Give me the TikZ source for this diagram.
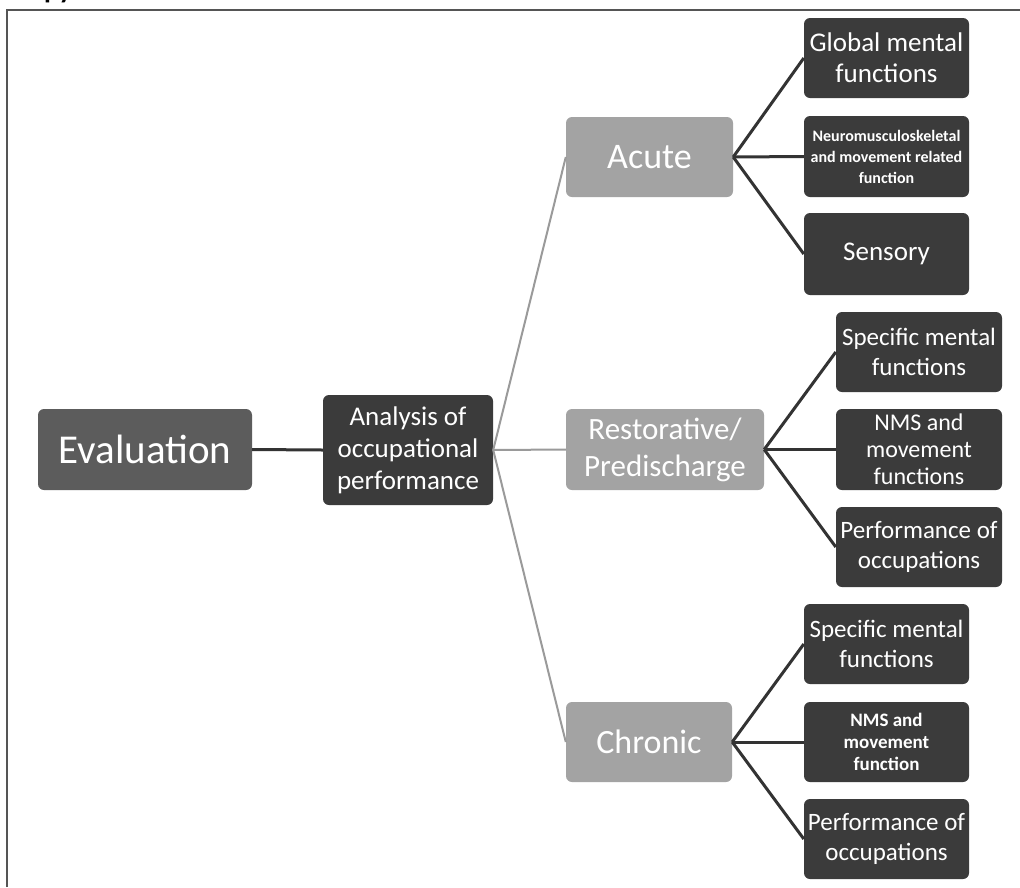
\documentclass[tikz,border=0pt]{standalone}
\usepackage{fontspec}
\setmainfont{Carlito}
\definecolor{boxdark}{HTML}{3B3B3B}
\definecolor{boxmid}{HTML}{5C5C5C}
\definecolor{boxlight}{HTML}{A3A3A3}
\definecolor{linedark}{HTML}{333333}
\definecolor{linelight}{HTML}{9A9A9A}
\definecolor{framegray}{HTML}{555555}
\tikzset{
  base/.style={rounded corners=6pt, inner sep=0pt, text=white, align=center},
  evalbox/.style={base, fill=boxmid, minimum width=214pt, minimum height=81pt, font=\fontsize{41}{46}\selectfont},
  anabox/.style={base, fill=boxdark, minimum width=170pt, minimum height=110pt, font=\fontsize{27}{32}\selectfont},
  catbox/.style={base, fill=boxlight, minimum width=167pt, minimum height=80pt, font=\fontsize{34}{37}\selectfont},
  leafbox/.style={base, fill=boxdark, minimum width=165pt, minimum height=80pt, font=\fontsize{25}{30}\selectfont},
  darkline/.style={draw=linedark, line width=3pt},
  lightline/.style={draw=linelight, line width=2pt},
}
\begin{document}
\begin{tikzpicture}[x=1pt, y=-1pt]
\clip (0,0) rectangle (1020,887);
\fill[white] (0,0) rectangle (1020,887);
% frame
\draw[framegray, line width=2pt] (7,887) -- (7,10) -- (1021,10);
% heading text, cut off by the top edge as in the reference
\node[anchor=base west, inner sep=0pt, font=\bfseries\fontsize{28}{28}\selectfont] (head) at (14,-2) {Copy};

% nodes
\node[evalbox] (eval) at (145,449.5) {Evaluation};
\node[anabox] (ana) at (408,450) {Analysis of\\occupational\\performance};

\node[catbox, font=\fontsize{36}{37}\selectfont] (acute) at (649.5,157) {Acute};
\node[catbox, minimum width=198pt, minimum height=81pt, font=\fontsize{31}{37}\selectfont] (rest) at (665,449.5) {Restorative/\\Predischarge};
\node[catbox, minimum width=166pt] (chron) at (649,742) {Chronic};

\node[leafbox, font=\fontsize{27}{31}\selectfont] (glob) at (886.5,58) {Global mental\\functions};
\node[leafbox, minimum height=81pt, font=\bfseries\fontsize{16}{21}\selectfont] (neuro) at (886.5,156.5) {Neuromusculoskeletal\\and movement related\\function};
\node[leafbox, minimum height=82pt, font=\fontsize{27}{31}\selectfont] (sens) at (886.5,254) {Sensory};

\node[leafbox, minimum width=166pt] (specr) at (919,352) {Specific mental\\functions};
\node[leafbox, minimum width=166pt, minimum height=81pt, font=\fontsize{24}{27}\selectfont] (nmsr) at (919,449.5) {NMS and\\movement\\functions};
\node[leafbox, minimum width=166pt] (perfr) at (919,547) {Performance of\\occupations};

\node[leafbox] (specc) at (886.5,644) {Specific mental\\functions};
\node[leafbox, font=\bfseries\fontsize{19}{22}\selectfont] (nmsc) at (886.5,742) {NMS and\\movement\\function};
\node[leafbox] (perfc) at (886.5,839) {Performance of\\occupations};

% connectors
\draw[darkline] (eval.east) -- (ana.west);
\draw[lightline] (ana.east) -- (acute.west);
\draw[lightline] (ana.east) -- (rest.west);
\draw[lightline] (ana.east) -- (chron.west);

\draw[darkline] (acute.east) -- (glob.west);
\draw[darkline] (acute.east) -- (neuro.west);
\draw[darkline] (acute.east) -- (sens.west);

\draw[darkline] (rest.east) -- (specr.west);
\draw[darkline] (rest.east) -- (nmsr.west);
\draw[darkline] (rest.east) -- (perfr.west);

\draw[darkline] (chron.east) -- (specc.west);
\draw[darkline] (chron.east) -- (nmsc.west);
\draw[darkline] (chron.east) -- (perfc.west);
\end{tikzpicture}
\end{document}
